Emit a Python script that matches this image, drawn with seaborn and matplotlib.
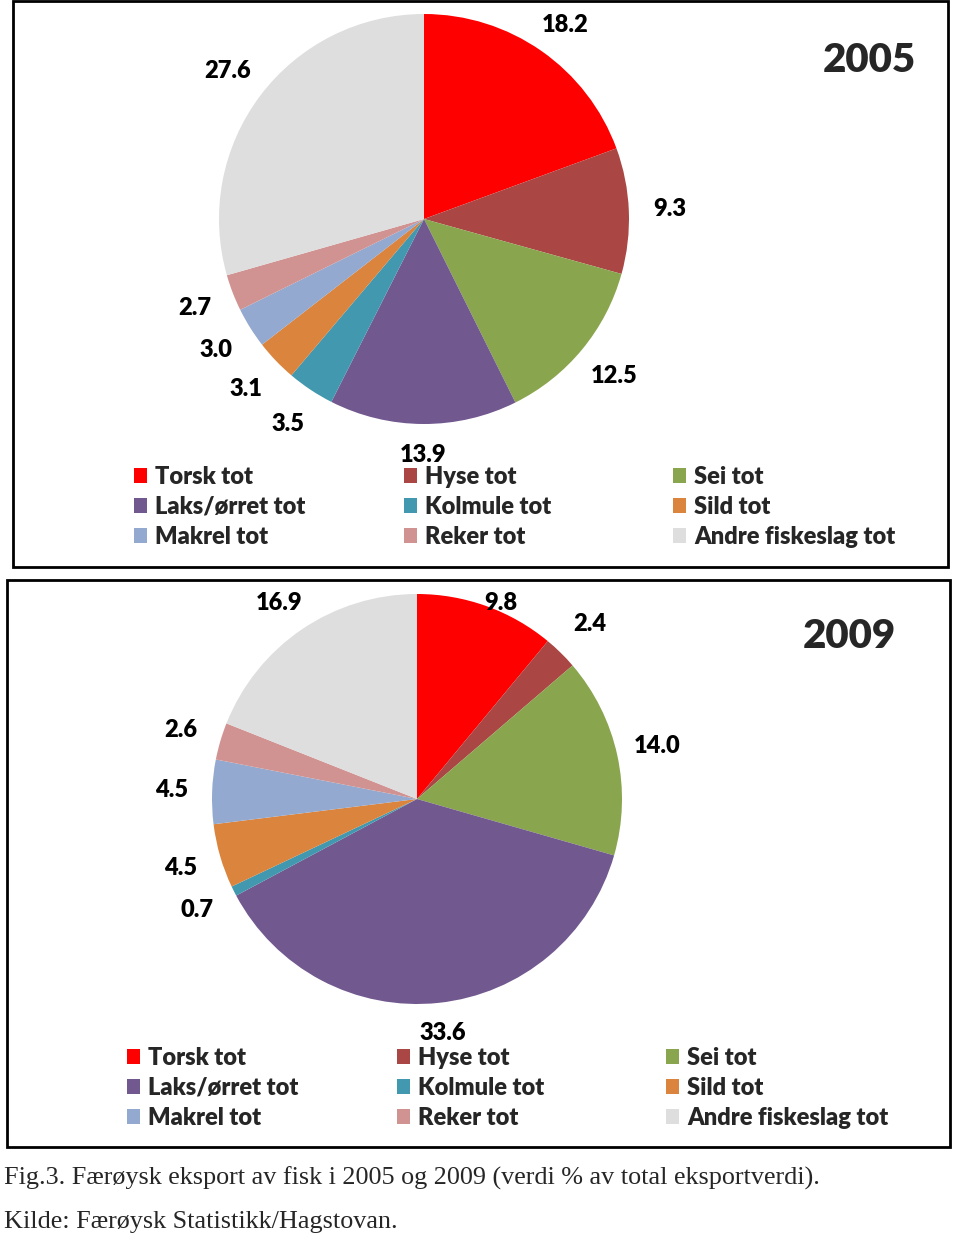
import matplotlib
matplotlib.use("Agg")
import matplotlib.pyplot as plt
import seaborn as sns
from matplotlib.patches import Rectangle

# ---- data ----
categories = ["Torsk tot", "Hyse tot", "Sei tot", "Laks/ørret tot", "Kolmule tot",
              "Sild tot", "Makrel tot", "Reker tot", "Andre fiskeslag tot"]
values_2005 = [18.2, 9.3, 12.5, 13.9, 3.5, 3.1, 3.0, 2.7, 27.6]
values_2009 = [9.8, 2.4, 14.0, 33.6, 0.7, 4.5, 4.5, 2.6, 16.9]
colors = ["#FF0000", "#AA4643", "#89A54E", "#71588F", "#4198AF",
          "#DB843D", "#93A9CF", "#D19392", "#DEDEDE"]
caption_1 = "Fig.3. Færøysk eksport av fisk i 2005 og 2009 (verdi % av total eksportverdi)."
caption_2 = "Kilde: Færøysk Statistikk/Hagstovan."

sns.set_theme(style="white")
sns.set_palette(colors)
plt.rcParams['font.family'] = ['Lato', 'DejaVu Sans']

W, H = 960, 1241
fig = plt.figure(figsize=(W / 100, H / 100), dpi=100)
fig.patch.set_facecolor("white")

LABEL_FS = 17
WEIGHT = "heavy"


def fx(px):
    return px / W


def fy(py):
    return 1 - py / H


def draw_panel(values, year, cx, cy, r, box, year_xy, legend_x, legend_y, ytop=None, ybot=None):
    # frame
    x0, y0, x1, y1 = box
    fig.patches.append(Rectangle((fx(x0), fy(y1)), fx(x1) - fx(x0), fy(y0) - fy(y1),
                                 transform=fig.transFigure, fill=False,
                                 edgecolor="black", linewidth=2, zorder=0))
    ax = fig.add_axes([fx(cx - r), fy(cy + r), (2 * r) / W, (2 * r) / H])
    wedges, texts = ax.pie(values, colors=sns.color_palette(colors), startangle=90,
                           counterclock=False, labels=[f"{v:.1f}" for v in values],
                           labeldistance=1.2,
                           wedgeprops=dict(linewidth=0),
                           textprops=dict(fontsize=LABEL_FS, fontweight=WEIGHT, color="black"))
    for t in texts:
        t.set_ha("center")
        t.set_va("center")
        x, y = t.get_position()
        if ytop is not None and y > ytop:
            y = ytop
        if ybot is not None and y < ybot:
            y = ybot
        t.set_position((x, y))
    ax.set_xlim(-1, 1)
    ax.set_ylim(-1, 1)
    ax.set_aspect("equal")
    ax.axis("off")
    fig.text(fx(year_xy[0]), fy(year_xy[1]), year, fontsize=29, fontweight=WEIGHT,
             ha="center", va="center")
    # legend: three columns
    for j in range(3):
        hs = wedges[j::3]
        ls = categories[j::3]
        fig.legend(hs, ls, loc="upper left",
                   bbox_to_anchor=(fx(legend_x[j]), fy(legend_y)),
                   frameon=False, ncol=1, handlelength=0.55, handleheight=0.6,
                   handletextpad=0.35, labelspacing=0.33, borderpad=0, borderaxespad=0,
                   prop=dict(size=LABEL_FS, weight=WEIGHT))
    return ax


draw_panel(values_2005, "2005", 424, 219, 205, (13, 1, 948, 567), (869, 60),
           [134, 404, 673], 466, ytop=0.945, ybot=-1.15)
draw_panel(values_2009, "2009", 417, 799, 205, (7, 580, 950, 1147), (849, 636),
           [127, 397, 666], 1047, ytop=0.955, ybot=-1.14)

fig.text(fx(4), fy(1178), caption_1, fontsize=18.8, family="Liberation Serif",
         ha="left", va="center")
fig.text(fx(4), fy(1222), caption_2, fontsize=18.8, family="Liberation Serif",
         ha="left", va="center")

fig.savefig("out.png", dpi=100, facecolor="white")
